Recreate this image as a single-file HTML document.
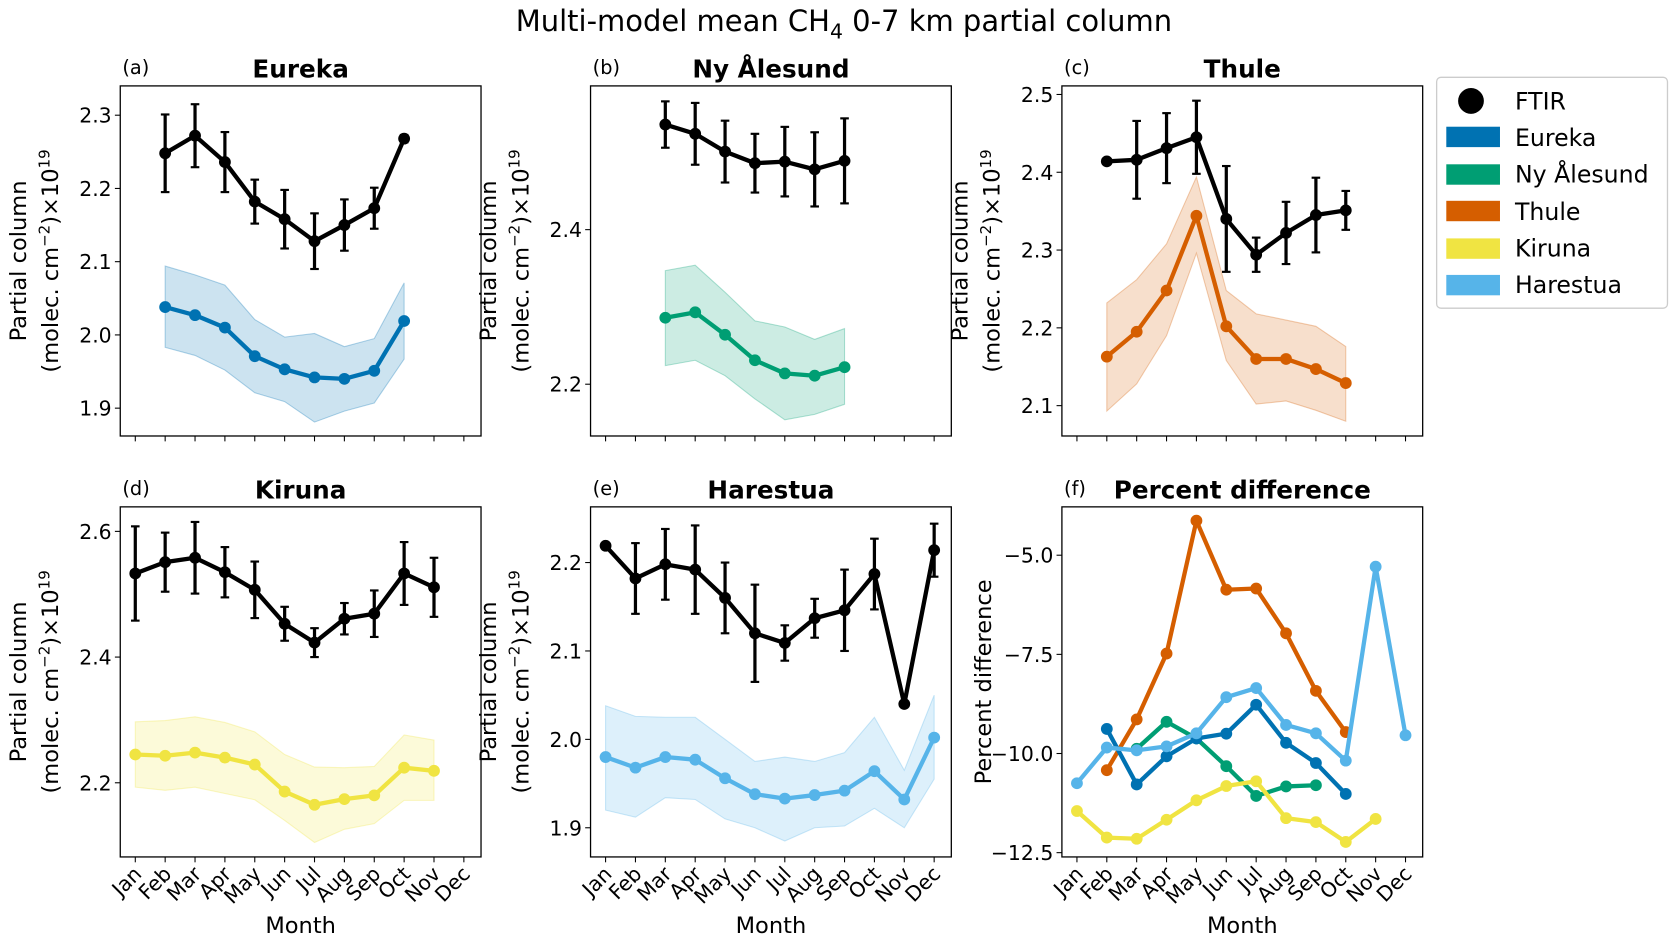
<!DOCTYPE html>
<html><head><meta charset="utf-8"><style>
html,body{margin:0;padding:0;background:#fff;}
svg{display:block;font-family:"DejaVu Sans","Liberation Sans",sans-serif;}
</style></head><body>
<svg id="fig" width="1675" height="945" viewBox="0 0 1560 880" preserveAspectRatio="none" xmlns="http://www.w3.org/2000/svg">
<text x="786" y="29" font-size="27" text-anchor="middle">Multi-model mean CH<tspan font-size="19" dy="7">4</tspan><tspan dy="-7"> 0-7 km partial column</tspan></text>
<g id="panels"></g>
<g>
<rect x="1338" y="72" width="215" height="215" rx="4" fill="#fff" stroke="#ccc" stroke-width="1.2"/>
<circle cx="1370" cy="94" r="12" fill="#000"/><text x="1411" y="102" font-size="22">FTIR</text>
<rect x="1347" y="118" width="50" height="19" fill="#0072b2"/><text x="1411" y="136" font-size="22">Eureka</text>
<rect x="1347" y="153" width="50" height="19" fill="#009e73"/><text x="1411" y="170" font-size="22">Ny Ålesund</text>
<rect x="1347" y="187" width="50" height="19" fill="#d55e00"/><text x="1411" y="205" font-size="22">Thule</text>
<rect x="1347" y="222" width="50" height="19" fill="#f0e442"/><text x="1411" y="239" font-size="22">Kiruna</text>
<rect x="1347" y="256" width="50" height="19" fill="#56b4e9"/><text x="1411" y="273" font-size="22">Harestua</text>
</g>
</svg>
<script>
const months=["Jan","Feb","Mar","Apr","May","Jun","Jul","Aug","Sep","Oct","Nov","Dec"];
// Eureka
const eurekaStart=1;
const eurekaFtir=[2.248,2.272,2.236,2.182,2.158,2.128,2.150,2.173,2.268];
const eurekaFtirErr=[0.053,0.043,0.041,0.03,0.04,0.038,0.035,0.028,0.005];
const eurekaModel=[2.038,2.027,2.010,1.971,1.953,1.942,1.940,1.951,2.019];
const eurekaUpper=[2.094,2.082,2.068,2.021,1.997,2.002,1.984,1.995,2.071];
const eurekaLower=[1.983,1.972,1.952,1.921,1.909,1.881,1.896,1.907,1.967];
const eurekaTicks=[1.9,2.0,2.1,2.2,2.3];
// Ny Alesund
const nyStart=2;
const nyFtir=[2.536,2.524,2.501,2.486,2.488,2.478,2.489];
const nyFtirErr=[0.03,0.04,0.04,0.038,0.045,0.048,0.055];
const nyModel=[2.286,2.293,2.264,2.231,2.214,2.211,2.222];
const nyUpper=[2.347,2.354,2.319,2.282,2.274,2.258,2.272];
const nyLower=[2.224,2.231,2.211,2.181,2.154,2.161,2.174];
const nyTicks=[2.2,2.4];
// Thule
const thuleStart=1;
const thuleFtir=[2.414,2.416,2.431,2.445,2.340,2.294,2.322,2.345,2.351];
const thuleFtirErr=[0.003,0.05,0.045,0.047,0.068,0.022,0.04,0.048,0.025];
const thuleModel=[2.163,2.195,2.248,2.344,2.202,2.160,2.160,2.147,2.129];
const thuleUpper=[2.232,2.262,2.308,2.394,2.248,2.218,2.210,2.202,2.176];
const thuleLower=[2.093,2.128,2.190,2.296,2.158,2.102,2.106,2.094,2.080];
const thuleTicks=[2.1,2.2,2.3,2.4,2.5];
// Kiruna
const kirunaStart=0;
const kirunaFtir=[2.533,2.551,2.558,2.535,2.507,2.453,2.423,2.461,2.469,2.533,2.511];
const kirunaFtirErr=[0.075,0.047,0.057,0.04,0.045,0.027,0.023,0.025,0.037,0.05,0.047];
const kirunaModel=[2.245,2.243,2.248,2.240,2.229,2.186,2.165,2.174,2.180,2.224,2.219];
const kirunaUpper=[2.297,2.299,2.305,2.296,2.281,2.245,2.225,2.224,2.226,2.276,2.268];
const kirunaLower=[2.193,2.188,2.193,2.183,2.173,2.140,2.105,2.126,2.135,2.172,2.172];
const kirunaTicks=[2.2,2.4,2.6];
// Harestua
const harStart=0;
const harFtir=[2.219,2.182,2.198,2.192,2.160,2.120,2.109,2.137,2.146,2.187,2.040,2.214];
const harFtirErr=[0.003,0.04,0.04,0.05,0.04,0.055,0.02,0.022,0.046,0.04,0.003,0.03];
const harModel=[1.980,1.968,1.980,1.977,1.956,1.938,1.933,1.937,1.942,1.964,1.932,2.002];
const harUpper=[2.038,2.026,2.025,2.025,2.000,1.975,1.980,1.975,1.985,2.025,1.965,2.050];
const harLower=[1.920,1.912,1.934,1.932,1.910,1.900,1.885,1.900,1.902,1.922,1.900,1.955];
const harTicks=[1.9,2.0,2.1,2.2];
// Percent difference
const pdEureka=[-9.38,-10.78,-10.07,-9.62,-9.50,-8.77,-9.73,-10.24,-11.02];
const pdNy=[-9.88,-9.20,-9.62,-10.32,-11.07,-10.83,-10.80];
const pdThule=[-10.42,-9.14,-7.48,-4.13,-5.87,-5.84,-6.97,-8.42,-9.46];
const pdKiruna=[-11.45,-12.12,-12.15,-11.67,-11.18,-10.82,-10.70,-11.63,-11.73,-12.23,-11.65];
const pdHarestua=[-10.75,-9.85,-9.92,-9.82,-9.49,-8.58,-8.35,-9.28,-9.49,-10.18,-5.29,-9.54];
const pdTicks=[-12.5,-10.0,-7.5,-5.0];

const NS="http://www.w3.org/2000/svg";
const root=document.getElementById('panels');
function mk(tag,attrs,parent,txt){const e=document.createElementNS(NS,tag);for(const k in attrs)e.setAttribute(k,attrs[k]);if(txt!==undefined)e.textContent=txt;(parent||root).appendChild(e);return e;}

function panel(opt){
  const g=mk('g',{});
  
  
  const L=opt.x,T=opt.y,W=336,H=326;
  const xs=i=>L+14+i*27.82;
  const ys=v=>T+H*(opt.ymax-v)/(opt.ymax-opt.ymin);
  if(opt.bands) opt.bands.forEach(b=>{
    let pts=b.up.map((v,i)=>xs(b.start+i)+','+ys(v));
    pts=pts.concat(b.lo.map((v,i)=>xs(b.start+i)+','+ys(v)).reverse());
    const p=mk('polygon',{points:pts.join(' '),fill:b.color,'fill-opacity':0.2,stroke:b.color,'stroke-opacity':0.3,'stroke-width':1},g);
    
    
  });
  opt.lines.forEach(s=>{
    const lg=mk('g',{},g);
    
    
    mk('polyline',{points:s.vals.map((v,i)=>xs(s.start+i)+','+ys(v)).join(' '),fill:'none',stroke:s.color,'stroke-width':4,'stroke-linejoin':'round'},lg);
    if(s.err) s.err.forEach((e,i)=>{const x=xs(s.start+i);
      mk('line',{x1:x,x2:x,y1:ys(s.vals[i]-e),y2:ys(s.vals[i]+e),stroke:'#000','stroke-width':3},lg);
      mk('line',{x1:x-4,x2:x+4,y1:ys(s.vals[i]-e),y2:ys(s.vals[i]-e),stroke:'#000','stroke-width':2},lg);
      mk('line',{x1:x-4,x2:x+4,y1:ys(s.vals[i]+e),y2:ys(s.vals[i]+e),stroke:'#000','stroke-width':2},lg);});
    s.vals.forEach((v,i)=>{const c=mk('circle',{cx:xs(s.start+i),cy:ys(v),r:5.5,fill:s.color},lg);
      
      });
  });
  mk('rect',{x:L,y:T,width:W,height:H,fill:'none',stroke:'#000','stroke-width':1.2},g);
  opt.ticks.forEach(t=>{const y=ys(t);
    mk('line',{x1:L-5,x2:L,y1:y,y2:y,stroke:'#000','stroke-width':1},g);
    const tx=mk('text',{x:L-8,y:y+7,'font-size':19,'text-anchor':'end'},g,opt.fmt?opt.fmt(t):t.toFixed(1));
    
    });
  months.forEach((m,i)=>{const x=xs(i);
    mk('line',{x1:x,x2:x,y1:T+H,y2:T+H+5,stroke:'#000','stroke-width':1},g);
    if(opt.xlabels){const tx=mk('text',{x:x+7,y:T+H+17,'font-size':19,'text-anchor':'end',transform:`rotate(-45 ${x+7} ${T+H+17})`},g,m);
      
      }
  });
  if(opt.xlabels){const t=mk('text',{x:L+W/2,y:T+H+71,'font-size':21,'text-anchor':'middle'},g,'Month');
    }
  const yt=mk('text',{'font-size':21,'text-anchor':'middle',transform:`translate(${opt.pd?L-66:L-84} ${T+H/2}) rotate(-90)`},g);
  
  
  if(opt.pd){mk('tspan',{x:0,y:0},yt,'Percent difference');}
  else{mk('tspan',{x:0,y:-4},yt,'Partial column');
    mk('tspan',{x:0,y:26},yt,'(molec. cm');mk('tspan',{dy:-8,'font-size':14},yt,'−2');
    mk('tspan',{dy:8},yt,')×10');mk('tspan',{dy:-8,'font-size':14},yt,'19');}
  const ti=mk('text',{x:L+W/2,y:T-8,'font-size':23,'font-weight':'bold','text-anchor':'middle'},g,opt.title);
  
  mk('text',{x:L+2,y:T-11,'font-size':18},g,opt.tag);
}
panel({name:'panel-eureka',x:112,y:80,ymin:1.862,ymax:2.34,ticks:eurekaTicks,title:'Eureka',tag:'(a)',
  bands:[{start:eurekaStart,up:eurekaUpper,lo:eurekaLower,color:'#0072b2',label:'eureka'}],
  lines:[{start:eurekaStart,vals:eurekaFtir,err:eurekaFtirErr,color:'#000',label:'ftir'},{start:eurekaStart,vals:eurekaModel,color:'#0072b2',label:'eureka'}]});
panel({name:'panel-ny-alesund',x:550,y:80,ymin:2.133,ymax:2.586,ticks:nyTicks,title:'Ny Ålesund',tag:'(b)',
  bands:[{start:nyStart,up:nyUpper,lo:nyLower,color:'#009e73',label:'ny-alesund'}],
  lines:[{start:nyStart,vals:nyFtir,err:nyFtirErr,color:'#000',label:'ftir'},{start:nyStart,vals:nyModel,color:'#009e73',label:'ny-alesund'}]});
panel({name:'panel-thule',x:989,y:80,ymin:2.061,ymax:2.511,ticks:thuleTicks,title:'Thule',tag:'(c)',
  bands:[{start:thuleStart,up:thuleUpper,lo:thuleLower,color:'#d55e00',label:'thule'}],
  lines:[{start:thuleStart,vals:thuleFtir,err:thuleFtirErr,color:'#000',label:'ftir'},{start:thuleStart,vals:thuleModel,color:'#d55e00',label:'thule'}]});
panel({name:'panel-kiruna',x:112,y:472,ymin:2.082,ymax:2.639,ticks:kirunaTicks,title:'Kiruna',tag:'(d)',xlabels:true,
  bands:[{start:kirunaStart,up:kirunaUpper,lo:kirunaLower,color:'#f0e442',label:'kiruna'}],
  lines:[{start:kirunaStart,vals:kirunaFtir,err:kirunaFtirErr,color:'#000',label:'ftir'},{start:kirunaStart,vals:kirunaModel,color:'#f0e442',label:'kiruna'}]});
panel({name:'panel-harestua',x:550,y:472,ymin:1.867,ymax:2.263,ticks:harTicks,title:'Harestua',tag:'(e)',xlabels:true,
  bands:[{start:harStart,up:harUpper,lo:harLower,color:'#56b4e9',label:'harestua'}],
  lines:[{start:harStart,vals:harFtir,err:harFtirErr,color:'#000',label:'ftir'},{start:harStart,vals:harModel,color:'#56b4e9',label:'harestua'}]});
panel({name:'panel-percent-difference',x:989,y:472,ymin:-12.608,ymax:-3.781,ticks:pdTicks,title:'Percent difference',tag:'(f)',xlabels:true,pd:true,
  fmt:t=>t.toFixed(1).replace('-','−'),
  lines:[{start:1,vals:pdThule,color:'#d55e00',label:'thule-pd'},{start:2,vals:pdNy,color:'#009e73',label:'ny-alesund-pd'},
         {start:1,vals:pdEureka,color:'#0072b2',label:'eureka-pd'},{start:0,vals:pdKiruna,color:'#f0e442',label:'kiruna-pd'},
         {start:0,vals:pdHarestua,color:'#56b4e9',label:'harestua-pd'}]});
</script>
</body></html>
